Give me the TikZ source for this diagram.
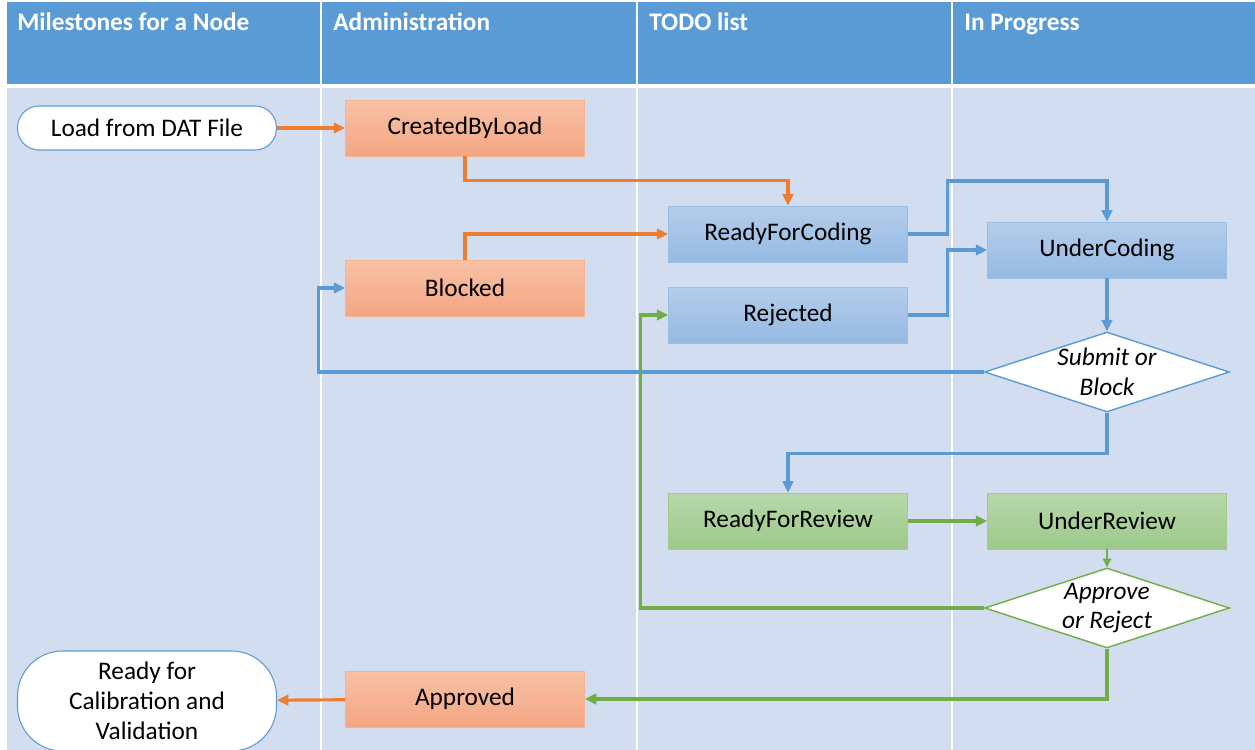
\documentclass[tikz,border=0pt]{standalone}
\usepackage{fontspec}
\setmainfont{Carlito}
\usetikzlibrary{arrows.meta}
\usetikzlibrary{shapes.geometric}

\definecolor{hdblue}{HTML}{5B9BD5}
\definecolor{lane}{HTML}{D2DEEF}
\definecolor{lnorange}{HTML}{ED7D31}
\definecolor{lnblue}{HTML}{5B9BD5}
\definecolor{lngreen}{HTML}{70AD47}
\definecolor{ortop}{HTML}{F8C1A5}
\definecolor{orbot}{HTML}{F4A683}
\definecolor{bltop}{HTML}{B5CDEA}
\definecolor{blbot}{HTML}{94BAE3}
\definecolor{grtop}{HTML}{B8D8A9}
\definecolor{grbot}{HTML}{9CC98A}

\tikzset{
  box/.style={rectangle,minimum width=4.78cm,minimum height=1.12cm,inner sep=0pt,text=black},
  orbox/.style={box,draw=ortop!80!lnorange,top color=ortop,bottom color=orbot},
  blbox/.style={box,draw=bltop!70!lnblue,top color=bltop,bottom color=blbot},
  grbox/.style={box,draw=grtop!70!lngreen,top color=grtop,bottom color=grbot},
  terminal/.style={rectangle,draw=lnblue,fill=white,line width=0.6pt,minimum width=5.18cm,inner sep=0pt,align=center},
  decision/.style={diamond,aspect=3.06,fill=white,line width=0.8pt,minimum width=4.9cm,minimum height=1.6cm,inner sep=0pt,align=center,font=\fontsize{14.4}{17}\selectfont\itshape},
  lanehead/.style={anchor=base west,inner sep=0pt,text=white,font=\fontsize{14.4}{17}\selectfont\bfseries},
  flow/.style={line width=1.8pt,-{Triangle[length=6.5pt,width=6pt]}}
}

\begin{document}
\begin{tikzpicture}[x=0.02cm,y=-0.02cm,font=\fontsize{14.4}{17}\selectfont]
  \useasboundingbox (0,0) rectangle (1255,750);
  % lanes
  \fill[hdblue] (7,2) rectangle (1255,84);
  \fill[lane] (7,88) rectangle (1255,750);
  \draw[white,line width=1.2pt] (321,0) -- (321,750) (637,0) -- (637,750) (952,0) -- (952,750);
  \node[lanehead] (hmile) at (17,31) {Milestones for a Node};
  \node[lanehead] (hadmin) at (333,31) {Administration};
  \node[lanehead] (htodo) at (649,31) {TODO list};
  \node[lanehead] (hprog) at (964,31) {In Progress};

  % states
  \node[terminal,minimum height=0.88cm,rounded corners=0.43cm] (load) at (147,128) {Load from DAT File};
  \node[orbox] (created) at (465,128) {CreatedByLoad};
  \node[blbox] (rfc) at (788,234) {ReadyForCoding};
  \node[orbox] (blocked) at (465,288) {Blocked};
  \node[blbox] (rejected) at (788,315) {Rejected};
  \node[blbox] (ucoding) at (1107,250) {UnderCoding};
  \node[decision,draw=lnblue] (subblk) at (1107,372) {Submit or\\Block};
  \node[grbox] (rfr) at (788,521) {ReadyForReview};
  \node[grbox] (ureview) at (1107,521) {UnderReview};
  \node[decision,draw=lngreen] (apprej) at (1107,608) {Approve\\or Reject};
  \node[orbox] (approved) at (465,699) {Approved};
  \node[terminal,minimum height=2cm,rounded corners=0.9cm] (calib) at (147,701) {Ready for\\Calibration and\\Validation};

  % transitions
  \draw[flow,lnorange] (load) -- (created);
  \draw[flow,lnorange] (created.south) -- ++(0,24) -| (rfc.north);
  \draw[flow,lnorange] (blocked.north) |- (rfc.west);
  \draw[flow,lnblue] (rfc.east) -| ++(40,-53) -| (ucoding.north);
  \draw[flow,lnblue] (rejected.east) -- ++(40,0) |- (ucoding.west);
  \draw[flow,lnblue] (ucoding) -- (subblk);
  \draw[flow,lnblue] (subblk.west) -| ++(-665,-84) -- (blocked.west);
  \draw[flow,lnblue] (subblk.south) -- ++(0,41) -| (rfr.north);
  \draw[flow,lngreen] (rfr) -- (ureview);
  \draw[lngreen,line width=0.6pt,-{Triangle[length=5pt,width=5pt]}] (ureview) -- (apprej);
  \draw[flow,lngreen] (apprej.west) -| ++(-343,-293) -- (rejected.west);
  \draw[flow,lngreen] (apprej.south) |- (approved.east);
  \draw[flow,lnorange] (approved) -- (calib);
\end{tikzpicture}
\end{document}
